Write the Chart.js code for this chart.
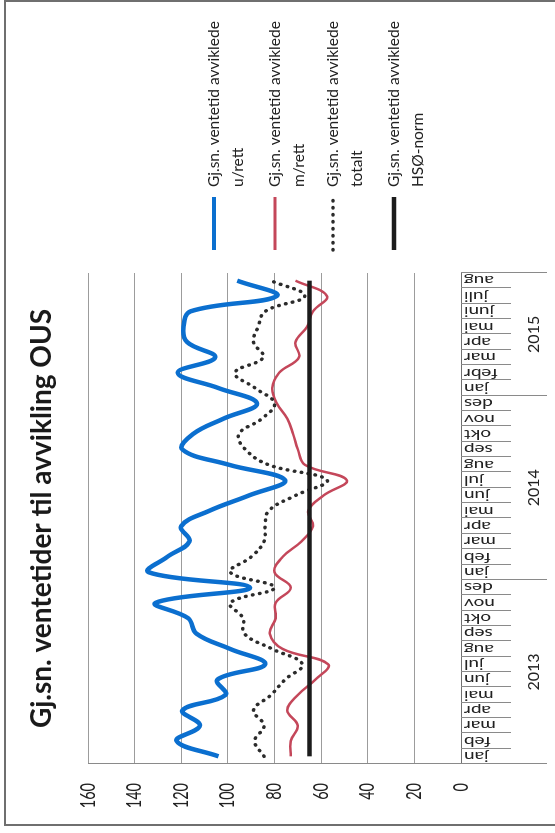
<!DOCTYPE html>
<html>
<head>
<meta charset="utf-8">
<script src="https://cdn.jsdelivr.net/npm/chart.js@4.4.1/dist/chart.umd.min.js"></script>
<style>
html,body{margin:0;padding:0;background:#fff;overflow:hidden;width:555px;height:833px;}
#wrap{position:absolute;left:0;top:0;width:833px;height:555px;transform-origin:0 0;transform:translate(0,833px) rotate(-90deg);}
canvas{display:block;}
</style>
</head>
<body>
<div id="wrap"><canvas id="c" width="833" height="555"></canvas></div>
<script>
// ---- data ----
const chartTitle = 'Gj.sn. ventetider til avvikling OUS';
const months = ['jan','feb','mar','apr','mai','jun','jul','aug','sep','okt','nov','des',
                'jan','feb','mar','apr','mai','jun','jul','aug','sep','okt','nov','des',
                'jan','febr','mar','apr','mai','juni','juli','aug'];
const years = ['2013','2014','2015'];
const yearFirst = [0, 12, 24];
const yearLast = [11, 23, 31];
const valueTicks = [0, 20, 40, 60, 80, 100, 120, 140, 160];

const uRett  = [104, 122, 112, 119.5, 101, 104.5, 84, 99, 113.5, 117, 131, 90.5,
                134, 126, 116.5, 120, 108, 91, 75.5, 99.5, 119.5, 115, 102, 87.5,
                104, 121.5, 105.5, 117.5, 119, 116, 79, 96];
const mRett  = [73, 73, 70, 74.5, 70, 62.5, 57, 76.5, 82, 79.5, 79.5, 73,
                80, 76.5, 68.5, 63.5, 65.5, 59, 49, 67, 70, 72, 74.5, 79,
                81, 78, 69.5, 71, 66, 63.5, 57.5, 71];
const totalt = [84.5, 88.5, 84.5, 89, 81.5, 75.5, 68, 81, 93, 93.5, 99, 80,
                99, 90, 84.5, 84, 82.5, 71, 57.5, 82.5, 92.5, 95.3, 85.5, 80,
                88.3, 97, 84.8, 89, 87, 84, 67, 81.5];
const hsoNorm = [65, 65, 65, 65, 65, 65, 65, 65, 65, 65, 65, 65,
                 65, 65, 65, 65, 65, 65, 65, 65, 65, 65, 65, 65,
                 65, 65, 65, 65, 65, 65, 65, 65];

const seriesLabels = [
  ['Gj.sn. ventetid avviklede', 'u/rett'],
  ['Gj.sn. ventetid avviklede', 'm/rett'],
  ['Gj.sn. ventetid avviklede', 'totalt'],
  ['Gj.sn. ventetid avviklede', 'HSØ-norm']
];
const seriesColors = ['#0b6fcf', '#c4475a', '#2b2b2b', '#1c1c1c'];

// ---- helpers ----
function makeStretch(k) {
  return function (chartArea) {
    const ctx = this.ctx;
    const items = this.getLabelItems(chartArea);
    for (const item of items) {
      const o = item.options || item;
      const f = item.font;
      ctx.save();
      ctx.translate(o.translation[0], o.translation[1]);
      ctx.scale(1, k);
      ctx.rotate(o.rotation || 0);
      ctx.font = f.string;
      ctx.fillStyle = o.color;
      ctx.textAlign = o.textAlign;
      ctx.textBaseline = o.textBaseline;
      const lines = Array.isArray(item.label) ? item.label : [item.label];
      let y = item.textOffset || 0;
      for (const line of lines) { ctx.fillText(line, 0, y); y += f.lineHeight; }
      ctx.restore();
    }
  };
}

const stretchPlugin = {
  id: 'stretch',
  beforeDraw(chart) {
    chart.scales.x.drawLabels = makeStretch(1.45);
    chart.scales.y.drawLabels = makeStretch(1.4);
  }
};

const decorPlugin = {
  id: 'decor',
  beforeDraw(chart) {
    const ctx = chart.ctx;
    ctx.save();
    ctx.fillStyle = '#ffffff';
    ctx.fillRect(0, 0, chart.width, chart.height);
    ctx.restore();
  },
  afterDraw(chart) {
    const ctx = chart.ctx;
    const xs = chart.scales.x;
    const p0 = xs.getPixelForValue(0);
    const step = xs.getPixelForValue(1) - p0;
    ctx.save();
    // category separators
    ctx.strokeStyle = '#8a8a8a';
    ctx.lineWidth = 1;
    for (let b = 0; b <= months.length; b++) {
      const px = Math.round(p0 + (b - 0.5) * step) + 0.5;
      const isYear = b === 0 || b === months.length || yearFirst.includes(b);
      ctx.beginPath();
      ctx.moveTo(px, xs.top);
      ctx.lineTo(px, xs.top + (isYear ? 86 : 50));
      ctx.stroke();
    }
    // year labels
    ctx.fillStyle = '#222';
    ctx.font = '16px Lato';
    ctx.textAlign = 'center';
    ctx.textBaseline = 'middle';
    years.forEach((yr, i) => {
      const cx = (xs.getPixelForValue(yearFirst[i]) + xs.getPixelForValue(yearLast[i])) / 2;
      ctx.fillText(yr, cx, 534);
    });
    // legend
    const ly = [214, 275, 333, 394];
    seriesLabels.forEach((lines, i) => {
      ctx.save();
      ctx.strokeStyle = seriesColors[i];
      ctx.lineWidth = i === 0 ? 4 : (i === 1 ? 3 : (i === 2 ? 3.5 : 4.5));
      if (i === 2) { ctx.setLineDash([0.5, 6.5]); ctx.lineCap = 'round'; }
      ctx.beginPath();
      ctx.moveTo(583, ly[i]);
      ctx.lineTo(636, ly[i]);
      ctx.stroke();
      ctx.restore();
      ctx.fillStyle = '#222';
      ctx.font = '15.5px Lato';
      ctx.textAlign = 'left';
      ctx.textBaseline = 'middle';
      ctx.fillText(lines[0], 646, ly[i]);
      ctx.fillText(lines[1], 646, ly[i] + 24);
    });
    // frame
    ctx.strokeStyle = '#6f6f6f';
    ctx.lineWidth = 2;
    ctx.beginPath();
    ctx.moveTo(8, 555); ctx.lineTo(8, 5); ctx.lineTo(833, 5);
    ctx.moveTo(832, 5); ctx.lineTo(832, 555);
    ctx.stroke();
    ctx.restore();
  }
};

new Chart(document.getElementById('c'), {
  type: 'line',
  data: {
    labels: months,
    datasets: [
      { label: seriesLabels[0].join(' '), data: uRett, borderColor: seriesColors[0], borderWidth: 4.5, tension: 0.4, pointRadius: 0, order: 3 },
      { label: seriesLabels[1].join(' '), data: mRett, borderColor: seriesColors[1], borderWidth: 2.5, tension: 0.4, pointRadius: 0, order: 2 },
      { label: seriesLabels[2].join(' '), data: totalt, borderColor: seriesColors[2], borderWidth: 3.5, borderDash: [0.5, 6.5], borderCapStyle: 'round', tension: 0.4, pointRadius: 0, order: 1 },
      { label: seriesLabels[3].join(' '), data: hsoNorm, borderColor: seriesColors[3], borderWidth: 4.5, tension: 0, pointRadius: 0, order: 0 }
    ]
  },
  options: {
    responsive: false,
    animation: false,
    devicePixelRatio: 1,
    layout: { padding: { left: 8, right: 273, top: 0, bottom: 0 } },
    plugins: {
      legend: { display: false },
      tooltip: { enabled: false },
      title: {
        display: true, text: chartTitle, fullSize: false,
        font: { family: 'Lato', size: 28, weight: 'bold' }, color: '#1a1a1a',
        padding: { top: 25, bottom: 29.4 }
      }
    },
    scales: {
      x: {
        type: 'category', offset: true,
        grid: { display: false, drawTicks: false },
        border: { display: true, color: '#707070', width: 1 },
        ticks: { autoSkip: false, minRotation: 90, maxRotation: 90, padding: 3, color: '#222', font: { family: 'Lato', size: 13 } },
        afterFit(s) { s.height = 94; }
      },
      y: {
        min: 0, max: 160,
        afterBuildTicks(s) { s.ticks = valueTicks.map(v => ({ value: v })); },
        grid: { color: '#9c9c9c', lineWidth: 1, drawTicks: false },
        border: { display: true, color: '#8a8a8a', width: 1 },
        ticks: { padding: 19, color: '#222', font: { family: 'Lato', size: 14.5 } },
        afterFit(s) { s.width = 61; }
      }
    }
  },
  plugins: [stretchPlugin, decorPlugin]
});
</script>
</body>
</html>
